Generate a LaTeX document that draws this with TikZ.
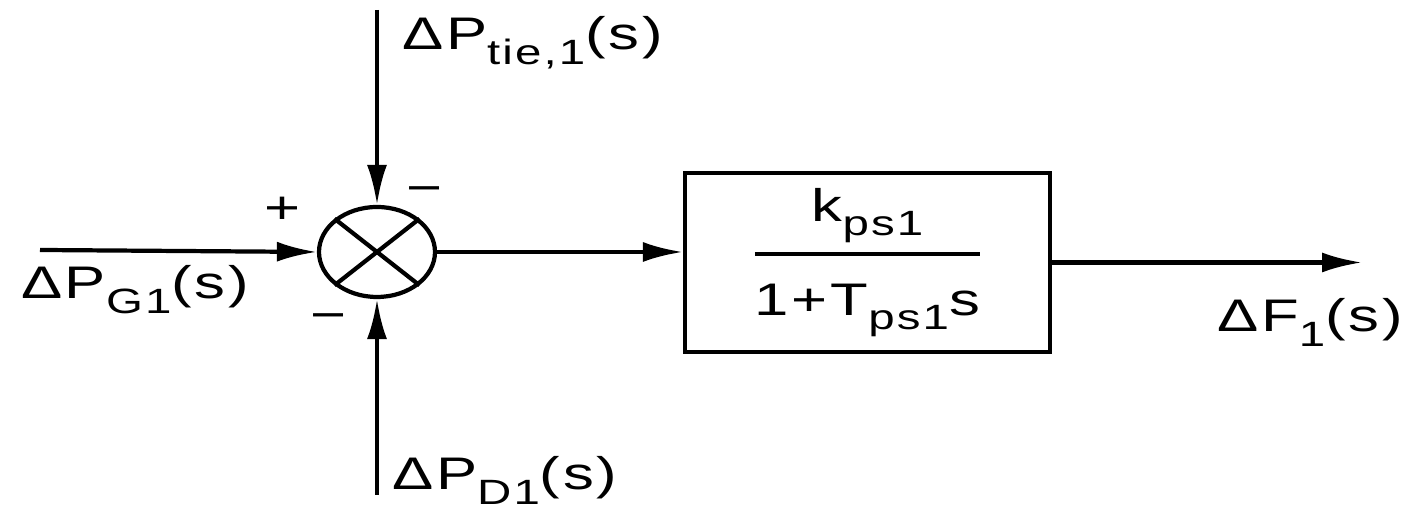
\documentclass[tikz,border=0pt]{standalone}
\usepackage{fontspec}
\usepackage{amsmath}
\setmainfont{Liberation Sans}[FakeStretch=1.35,LetterSpace=6]
\usetikzlibrary{arrows.meta,shapes.geometric}
\newcommand{\lowtxt}[1]{\raisebox{-0.6ex}{\fontsize{10}{12}\selectfont #1}}

\begin{document}
\begin{tikzpicture}[
    line width=1.2pt,
    >={Latex[length=4mm,width=2mm]},
    lbl/.style={font=\fontsize{13}{15}\selectfont, inner sep=0pt},
    sign/.style={font=\fontsize{13}{15}\selectfont, inner sep=0pt}
]
    % 画布: 14.16cm x 5.12cm, 1格 = 0.1mm
    \useasboundingbox (0,0) rectangle (14.16,5.12);

    % 求和点 (横向拉长的圆)
    \node[draw, ellipse, minimum width=1.16cm, minimum height=0.90cm, inner sep=0pt] (sum) at (3.77,2.60) {};
    \draw (sum.north west) -- (sum.south east);
    \draw (sum.north east) -- (sum.south west);

    % 传递函数方框
    \node[draw, minimum width=3.65cm, minimum height=1.79cm, font=\fontsize{13}{15}\selectfont] (plant) at (8.675,2.495)
        {$\genfrac{}{}{0.9pt}{0}{\mbox{k\lowtxt{ps1}\rule[-1.5mm]{0pt}{0pt}}}{\mbox{\rule{0pt}{5mm}1+T\lowtxt{ps1}s}}$};

    % 输入输出端点
    \coordinate (gIn) at (0.40,2.62);
    \coordinate (tieIn) at (3.77,5.02);
    \coordinate (dIn) at (3.77,0.17);
    \coordinate (fOut) at (13.62,2.495);

    \draw[->] (gIn) -- (sum.west);
    \draw[->] (tieIn) -- (sum.north);
    \draw[->] (dIn) -- (sum.south);
    \draw[->] (sum.east) -- (sum.east -| plant.west);
    \draw[->] (plant.east) -- (fOut);

    % 信号标注
    \node[lbl, anchor=base] (gLbl) at (1.35,2.13) {ΔP\lowtxt{G1}(s)};
    \node[lbl, anchor=base west] (tieLbl) at (4.00,4.62) {ΔP\lowtxt{tie,1}(s)};
    \node[lbl, anchor=base west] (dLbl) at (3.90,0.22) {ΔP\lowtxt{D1}(s)};
    \node[lbl, anchor=base] (fLbl) at (13.10,1.80) {ΔF\lowtxt{1}(s)};

    % 符号
    \node[sign] (pG) at (2.83,3.02) {+};
    \node[sign] (mTie) at (4.25,3.17) {−};
    \node[sign] (mD) at (3.29,1.90) {−};
\end{tikzpicture}
\end{document}
